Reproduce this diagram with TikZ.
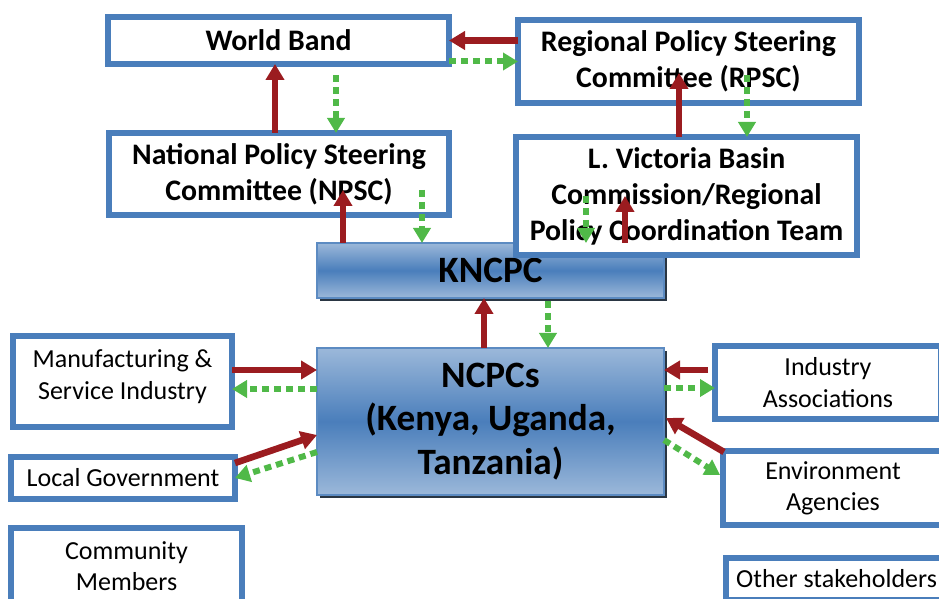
\documentclass[tikz,border=0pt]{standalone}
\usepackage{fontspec}
\setmainfont{Carlito}
\usepackage{tikz}
\usetikzlibrary{arrows.meta,positioning,calc,shadows}

\definecolor{boxblue}{HTML}{4A7EBB}
\definecolor{arrowred}{HTML}{9B1C20}
\definecolor{dotgreen}{HTML}{50B948}

\tikzset{
  frame/.style={draw=boxblue, line width=3pt, fill=white, align=center, inner sep=0pt, outer sep=0pt},
  head/.style={font=\bfseries\fontsize{14.9}{18}\selectfont},
  side/.style={font=\fontsize{13}{15.6}\selectfont},
  hub/.style={draw=boxblue!90!white, line width=1pt, align=center, inner sep=0pt, outer sep=0pt,
    top color=boxblue!55!white, bottom color=boxblue!55!white, middle color=boxblue,
    drop shadow={shadow xshift=1.5pt, shadow yshift=-1.5pt, fill=black!75!boxblue, opacity=0.9},
    font=\bfseries\fontsize{18.6}{21.8}\selectfont},
  flow/.style={draw=arrowred, line width=3.3pt, -{Triangle[length=8pt,width=9pt]}},
  info/.style={draw=dotgreen, line width=3pt, dash pattern=on 3.5pt off 2.5pt, -{Triangle[length=7.5pt,width=8.5pt]}}
}

\begin{document}
\begin{tikzpicture}[x=0.5pt, y=-0.5pt]
    \clip (0,0) rectangle (939,599);

    % Top row
    \node[frame, head, minimum width=170.5pt, minimum height=23.5pt] (wb) at (278.5,40.5) {World Band};
    \node[frame, head, minimum width=170.5pt, minimum height=41.5pt] (rpsc) at (688.5,61.5)
        {Regional Policy Steering\\Committee (RPSC)};
    \node[frame, head, minimum width=170pt, minimum height=41pt] (npsc) at (279,174)
        {National Policy Steering\\Committee (NPSC)};

    % Hubs
    \node[hub, minimum width=173.5pt, minimum height=27.5pt] (kncpc) at (490.5,270.5) {KNCPC};
    \node[hub, minimum width=173.5pt, minimum height=73.5pt] (ncpc) at (490.5,421.5)
        {NCPCs\\(Kenya, Uganda,\\Tanzania)};
    \node[frame, head, minimum width=170.5pt, minimum height=59pt] (lvbc) at (686.5,196)
        {L. Victoria Basin\\Commission/Regional\\Policy Coordination Team};

    % Stakeholders
    \node[frame, side, minimum width=109.5pt, minimum height=45.5pt, text depth=7pt] (mfg) at (122.5,381.5)
        {Manufacturing \&\\Service Industry};
    \node[frame, side, minimum width=112pt, minimum height=21pt] (lgov) at (123,478) {Local Government};
    \node[frame, side, minimum width=115.5pt, minimum height=38pt] (comm) at (126.5,566) {Community\\Members};
    \node[frame, side, minimum width=113pt, minimum height=36.5pt] (ind) at (828,382.5) {Industry\\Associations};
    \node[frame, side, minimum width=110pt, minimum height=37pt] (env) at (833,488) {Environment\\Agencies};
    \node[frame, side, minimum width=111pt, minimum height=21pt] (other) at (836.5,579) {Other stakeholders};

    % Reporting (red) and feedback (green)
    \draw[flow] (rpsc.west |- wb.east) -- (wb.east);
    \draw[info] (wb.east |- rpsc.west) -- (rpsc.west);
    \draw[flow] ($(npsc.north)+(-4,0)$) -- ($(wb.south)+(-3.5,0)$);
    \draw[info] ($(wb.south)+(57.5,11)$) -- ($(npsc.north)+(57,0)$);
    \draw[flow] ($(kncpc.north west)+(26,0)$) -- ($(npsc.south)+(64,-25)$);
    \draw[info] ($(npsc.south)+(143,-25)$) -- ($(kncpc.north west)+(105,0)$);
    \draw[flow] ($(lvbc.north)+(-7.5,0)$) -- ($(rpsc.south)+(-9.5,-30)$);
    \draw[info] ($(rpsc.south)+(58.5,-28)$) -- ($(lvbc.north)+(60.5,0)$);
    \draw[info] ($(lvbc.center)+(-100.5,0)$) -- ($(kncpc.north east)+(-78,0)$);
    \draw[flow] ($(kncpc.north east)+(-39,0)$) -- ($(lvbc.center)+(-61.5,0)$);
    \draw[flow] ($(ncpc.north)+(-6.5,0)$) -- ($(kncpc.south)+(-6.5,0)$);
    \draw[info] ($(kncpc.south)+(57.5,3)$) -- ($(ncpc.north)+(57.5,0)$);

    \draw[flow] ($(mfg.east)+(0,-11.5)$) -- ($(ncpc.west)+(0,-51.5)$);
    \draw[info] ($(ncpc.west)+(0,-32.5)$) -- ($(mfg.east)+(0,7.5)$);
    \draw[flow] ($(lgov.east)+(0,-15)$) -- ($(ncpc.west)+(0,13.5)$);
    \draw[info] ($(ncpc.west)+(0,30.5)$) -- (lgov.east);
    \draw[flow] ($(ind.west)+(-7,-12.5)$) -- ($(ncpc.east)+(0,-51.5)$);
    \draw[info] ($(ncpc.east)+(0,-33.5)$) -- ($(ind.west)+(0,5.5)$);
    \draw[flow] ($(env.north west)+(1,1)$) -- ($(ncpc.east)+(2,-3.5)$);
    \draw[info] ($(ncpc.east)+(0,18.5)$) -- ($(env.west)+(-3,-13)$);
\end{tikzpicture}
\end{document}
